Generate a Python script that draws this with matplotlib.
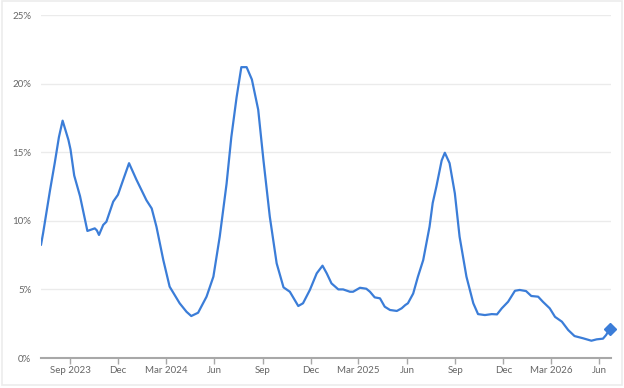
import matplotlib
matplotlib.use("Agg")
import matplotlib.pyplot as plt
from matplotlib.patches import Rectangle
import pandas as pd

dates = [
    "2023-07-08", "2023-07-12", "2023-07-25", "2023-08-03", "2023-08-11", "2023-08-18",
    "2023-08-29", "2023-09-02", "2023-09-09", "2023-09-20", "2023-10-04", "2023-10-18",
    "2023-10-22", "2023-10-26", "2023-11-03", "2023-11-09", "2023-11-22", "2023-12-01",
    "2023-12-11", "2023-12-22", "2024-01-05", "2024-01-24", "2024-02-03", "2024-02-12",
    "2024-02-25", "2024-03-08", "2024-03-27", "2024-04-09", "2024-04-18", "2024-05-01",
    "2024-05-17", "2024-05-30", "2024-06-11", "2024-06-24", "2024-07-03", "2024-07-13",
    "2024-07-22", "2024-08-01", "2024-08-11", "2024-08-23", "2024-09-02", "2024-09-14",
    "2024-09-27", "2024-10-10", "2024-10-22", "2024-11-07", "2024-11-16", "2024-11-29",
    "2024-12-12", "2024-12-23", "2024-12-31", "2025-01-09", "2025-01-22", "2025-01-31",
    "2025-02-13", "2025-02-19", "2025-03-04", "2025-03-16", "2025-03-23", "2025-04-01",
    "2025-04-11", "2025-04-20", "2025-04-30", "2025-05-13", "2025-05-22", "2025-05-29",
    "2025-06-03", "2025-06-13", "2025-06-22", "2025-07-02", "2025-07-14", "2025-07-20",
    "2025-07-27", "2025-08-06", "2025-08-12", "2025-08-21", "2025-08-31", "2025-09-09",
    "2025-09-22", "2025-10-05", "2025-10-14", "2025-10-27", "2025-11-09", "2025-11-19",
    "2025-11-28", "2025-12-10", "2025-12-23", "2026-01-01", "2026-01-13", "2026-01-23",
    "2026-02-05", "2026-02-14", "2026-02-27", "2026-03-09", "2026-03-22", "2026-04-03",
    "2026-04-15", "2026-05-01", "2026-05-17", "2026-05-27", "2026-06-08", "2026-06-14",
    "2026-06-21",
]
values = [
    8.24, 9.1, 12.2, 14.2, 16.1, 17.3,
    15.9, 15.2, 13.3, 11.8, 9.26, 9.45,
    9.3, 8.97, 9.7, 9.93, 11.4, 11.9,
    13.0, 14.2, 13.0, 11.5, 10.9, 9.57,
    7.14, 5.2, 3.99, 3.37, 3.06, 3.3,
    4.47, 5.93, 8.84, 12.7, 16.1, 19.0,
    21.2, 21.2, 20.3, 18.1, 14.4, 10.3,
    6.9, 5.15, 4.83, 3.79, 3.99, 4.96,
    6.17, 6.73, 6.17, 5.44, 5.0, 5.0,
    4.83, 4.83, 5.12, 5.05, 4.83, 4.42,
    4.35, 3.74, 3.5, 3.43, 3.62, 3.86,
    3.99, 4.7, 5.93, 7.14, 9.57, 11.3,
    12.5, 14.4, 14.96, 14.2, 12.0, 8.84,
    5.93, 3.99, 3.2, 3.13, 3.2, 3.18,
    3.62, 4.1, 4.9, 4.96, 4.88, 4.52,
    4.47, 4.1, 3.62, 3.0, 2.65, 2.04,
    1.6, 1.44, 1.26, 1.36, 1.41, 1.68,
    2.14,
]
tick_dates = ["2023-09-01", "2023-12-01", "2024-03-01", "2024-06-01", "2024-09-01",
              "2024-12-01", "2025-03-01", "2025-06-01", "2025-09-01", "2025-12-01",
              "2026-03-01", "2026-06-01"]
tick_labels = ["Sep 2023", "Dec", "Mar 2024", "Jun", "Sep", "Dec", "Mar 2025", "Jun",
               "Sep", "Dec", "Mar 2026", "Jun"]
y_ticks = [0, 5, 10, 15, 20, 25]
y_labels = ["0%", "5%", "10%", "15%", "20%", "25%"]

plt.rcParams["font.family"] = ["Lato", "DejaVu Sans"]

x = pd.to_datetime(dates)
fig = plt.figure(figsize=(6.24, 3.88), dpi=100)
fig.patch.set_facecolor("white")
fig.patches.append(Rectangle((0.003, 0.008), 0.994, 0.99, transform=fig.transFigure,
                             fill=False, edgecolor="#ececec", linewidth=1.2))
ax = fig.add_axes([0.0657, 0.0773, 0.9133, 0.884])

color = "#3b7dd8"
ax.plot(x, values, color=color, linewidth=1.6, solid_joinstyle="round",
        solid_capstyle="round", zorder=3)
ax.plot(x[-1:], values[-1:], marker="D", markersize=6, color=color, linestyle="none",
        zorder=6, clip_on=False)

ax.set_ylim(0, 25)
ax.set_xlim(pd.Timestamp("2023-07-08"), pd.Timestamp("2026-06-23"))
ax.set_yticks(y_ticks)
ax.set_yticklabels(y_labels)
ax.set_xticks(pd.to_datetime(tick_dates))
ax.set_xticklabels(tick_labels)

ax.grid(axis="y", color="#ebebeb", linewidth=1.0)
ax.set_axisbelow(True)
for s in ["top", "right", "left"]:
    ax.spines[s].set_visible(False)
ax.spines["bottom"].set_color("#a8a8a8")
ax.spines["bottom"].set_linewidth(1.5)
ax.spines["bottom"].set_zorder(5)
ax.tick_params(axis="y", length=0, pad=7, labelsize=7, labelcolor="#666666")
ax.tick_params(axis="x", length=4, width=1, color="#a8a8a8", pad=2, labelsize=7,
               labelcolor="#666666")

fig.savefig("out.png", dpi=100, facecolor="white")
